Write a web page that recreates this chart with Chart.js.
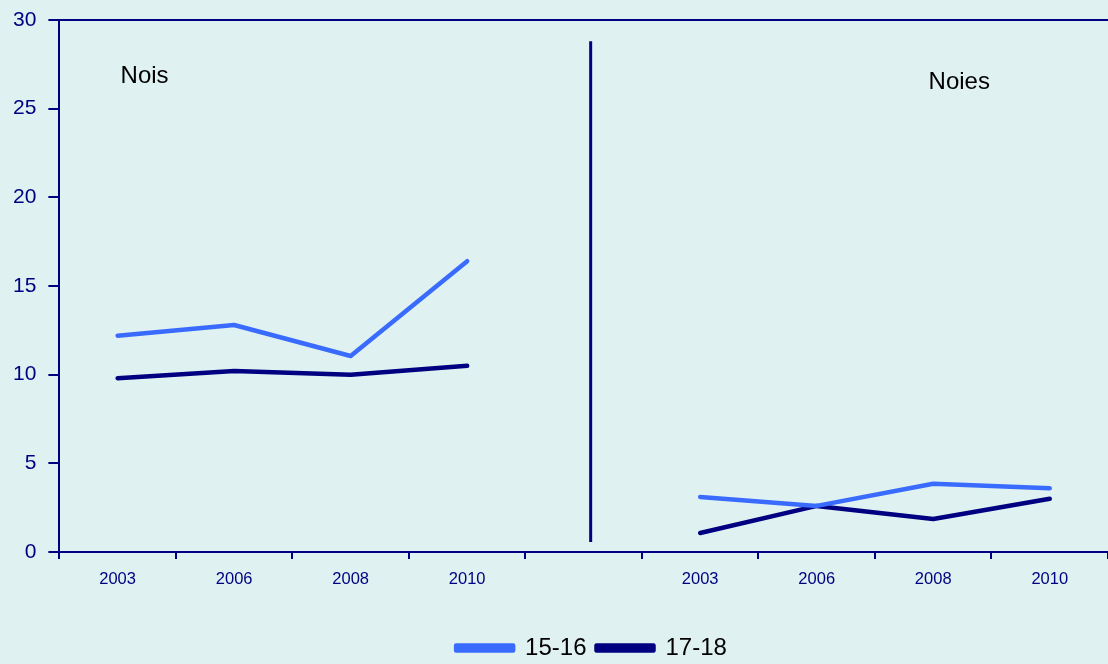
<!DOCTYPE html>
<html>
<head>
<meta charset="utf-8">
<script src="https://cdn.jsdelivr.net/npm/chart.js@4/dist/chart.umd.min.js"></script>
<style>
html,body{margin:0;padding:0;background:#DFF1F1;}
#wrap{width:1108px;height:664px;}
</style>
</head>
<body>
<div id="wrap"><canvas id="c" width="1108" height="664"></canvas></div>
<script>
const categories = ['2003','2006','2008','2010','','2003','2006','2008','2010'];
const series1516 = [12.2, 12.8, 11.05, 16.4, null, 3.1, 2.6, 3.85, 3.6];
const series1718 = [9.8, 10.2, 10.0, 10.5, null, 1.07, 2.6, 1.86, 3.0];
const dividerX = 4.06;
const dividerY = [0.56, 28.8];
const yTicks = [0, 5, 10, 15, 20, 25, 30];
const panelLabels = ['Nois', 'Noies'];

const NAVY = '#000080';
const LIGHT = '#3A6BFF';
const BG = '#DFF1F1';
const FONT = '"Liberation Sans", Arial, sans-serif';

const bgPlugin = {
  id: 'bg',
  beforeDraw(chart) {
    const ctx = chart.ctx;
    ctx.save();
    ctx.fillStyle = BG;
    ctx.fillRect(0, 0, chart.width, chart.height);
    ctx.restore();
  }
};
const legendShift = {
  id: 'legendShift',
  afterLayout(chart) {
    const l = chart.legend;
    if (l) { l.left += 37; l.right += 37; l.top += 6; l.bottom += 6; }
  }
};
const textPlugin = {
  id: 'panelText',
  afterDatasetsDraw(chart) {
    const ctx = chart.ctx, x = chart.scales.x, y = chart.scales.y;
    ctx.save();
    ctx.fillStyle = '#000';
    ctx.font = '24px ' + FONT;
    ctx.textAlign = 'center';
    ctx.textBaseline = 'middle';
    ctx.fillText(panelLabels[0], x.getPixelForValue(0) + 27, y.getPixelForValue(26.8));
    ctx.fillText(panelLabels[1], x.getPixelForValue(7) + 26, y.getPixelForValue(26.5));
    ctx.restore();
  }
};

new Chart(document.getElementById('c'), {
  type: 'line',
  data: {
    labels: categories,
    datasets: [
      {label: '15-16', data: series1516, borderColor: LIGHT, backgroundColor: LIGHT, borderWidth: 4.5, pointRadius: 0, borderCapStyle: 'round', borderJoinStyle: 'round', spanGaps: false},
      {label: '17-18', data: series1718, borderColor: NAVY, backgroundColor: NAVY, borderWidth: 4.5, pointRadius: 0, borderCapStyle: 'round', borderJoinStyle: 'round', spanGaps: false},
      {label: 'divider', xAxisID: 'x2', data: dividerY.map(v => ({x: dividerX, y: v})), borderColor: NAVY, backgroundColor: NAVY, borderWidth: 3, pointRadius: 0, borderCapStyle: 'butt'}
    ]
  },
  options: {
    responsive: false,
    animation: false,
    layout: {padding: {left: 1, right: 0, top: 20, bottom: 0}},
    plugins: {
      legend: {
        position: 'bottom',
        labels: {
          filter: item => item.text !== 'divider',
          boxWidth: 57, boxHeight: 5,
          color: '#000',
          padding: 10,
          font: {family: FONT, size: 24}
        }
      },
      tooltip: {enabled: false}
    },
    scales: {
      x: {
        type: 'category',
        offset: true,
        afterFit: s => { s.height = 68; },
        grid: {display: true, drawOnChartArea: false, offset: true, tickLength: 7, tickColor: NAVY, lineWidth: 2},
        border: {display: true, color: NAVY, width: 2},
        ticks: {color: NAVY, font: {family: FONT, size: 16.5}, padding: 11, maxRotation: 0, autoSkip: false}
      },
      x2: {
        type: 'linear',
        display: false,
        min: -0.5, max: 8.5
      },
      y: {
        min: 0, max: 30,
        afterBuildTicks: s => { s.ticks = yTicks.map(v => ({value: v})); },
        afterFit: s => { s.paddingTop = 0; s.paddingBottom = 0; },
        grid: {drawOnChartArea: true, color: c => c.tick && c.tick.value === 30 ? NAVY : 'rgba(0,0,0,0)', tickColor: NAVY, tickLength: 11, lineWidth: 2},
        border: {display: true, color: NAVY, width: 2},
        ticks: {color: NAVY, font: {family: FONT, size: 21}, padding: 12}
      }
    }
  },
  plugins: [bgPlugin, legendShift, textPlugin]
});
</script>
</body>
</html>
